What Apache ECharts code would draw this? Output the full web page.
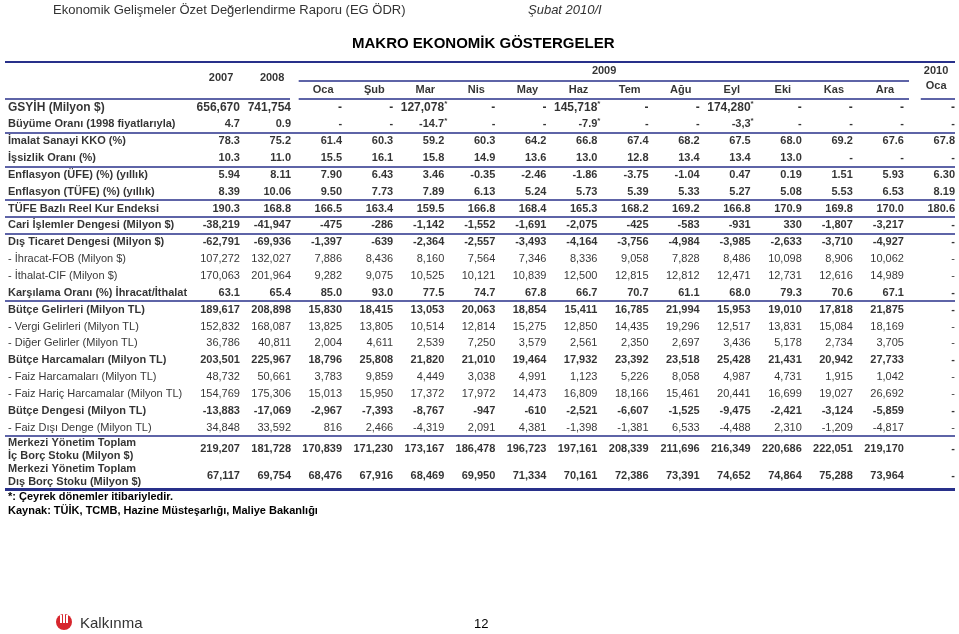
<!DOCTYPE html>
<html>
<head>
<meta charset="utf-8">
<script src="https://cdn.jsdelivr.net/npm/echarts@6/dist/echarts.min.js"></script>
<style>
  html, body { margin: 0; padding: 0; background: #fff; }
  #chart { width: 959px; height: 634px; }
</style>
</head>
<body>
<div id="chart"></div>
<script>
// column headers
const yearCols = ['2007', '2008']
const monthCols = ['Oca', 'Şub', 'Mar', 'Nis', 'May', 'Haz', 'Tem', 'Ağu', 'Eyl', 'Eki', 'Kas', 'Ara']
const groupLabel = '2009'
const lastCol = '2010\nOca'

const rowLabels = [
  'GSYİH (Milyon $)',
  'Büyüme Oranı (1998 fiyatlarıyla)',
  'İmalat Sanayi KKO (%)',
  'İşsizlik Oranı (%)',
  'Enflasyon (ÜFE) (%) (yıllık)',
  'Enflasyon (TÜFE) (%) (yıllık)',
  'TÜFE Bazlı Reel Kur Endeksi',
  'Cari İşlemler Dengesi (Milyon $)',
  'Dış Ticaret Dengesi (Milyon $)',
  '- İhracat-FOB (Milyon $)',
  '- İthalat-CIF (Milyon $)',
  'Karşılama Oranı (%) İhracat/İthalat',
  'Bütçe Gelirleri (Milyon TL)',
  '- Vergi Gelirleri (Milyon TL)',
  '- Diğer Gelirler (Milyon TL)',
  'Bütçe Harcamaları (Milyon TL)',
  '- Faiz Harcamaları (Milyon TL)',
  '- Faiz Hariç Harcamalar (Milyon TL)',
  'Bütçe Dengesi (Milyon TL)',
  '- Faiz Dışı Denge (Milyon TL)',
  'Merkezi Yönetim Toplam\nİç Borç Stoku (Milyon $)',
  'Merkezi Yönetim Toplam\nDış Borç Stoku (Milyon $)'
]

// values per row: 2007, 2008, 2009 Oca..Ara, 2010 Oca
const gsyih = ['656,670', '741,754', '-', '-', '127,078*', '-', '-', '145,718*', '-', '-', '174,280*', '-', '-', '-', '-']
const buyume = ['4.7', '0.9', '-', '-', '-14.7*', '-', '-', '-7.9*', '-', '-', '-3,3*', '-', '-', '-', '-']
const imalatKko = ['78.3', '75.2', '61.4', '60.3', '59.2', '60.3', '64.2', '66.8', '67.4', '68.2', '67.5', '68.0', '69.2', '67.6', '67.8']
const issizlik = ['10.3', '11.0', '15.5', '16.1', '15.8', '14.9', '13.6', '13.0', '12.8', '13.4', '13.4', '13.0', '-', '-', '-']
const ufe = ['5.94', '8.11', '7.90', '6.43', '3.46', '-0.35', '-2.46', '-1.86', '-3.75', '-1.04', '0.47', '0.19', '1.51', '5.93', '6.30']
const tufe = ['8.39', '10.06', '9.50', '7.73', '7.89', '6.13', '5.24', '5.73', '5.39', '5.33', '5.27', '5.08', '5.53', '6.53', '8.19']
const reelKur = ['190.3', '168.8', '166.5', '163.4', '159.5', '166.8', '168.4', '165.3', '168.2', '169.2', '166.8', '170.9', '169.8', '170.0', '180.6']
const cariDenge = ['-38,219', '-41,947', '-475', '-286', '-1,142', '-1,552', '-1,691', '-2,075', '-425', '-583', '-931', '330', '-1,807', '-3,217', '-']
const disTicaret = ['-62,791', '-69,936', '-1,397', '-639', '-2,364', '-2,557', '-3,493', '-4,164', '-3,756', '-4,984', '-3,985', '-2,633', '-3,710', '-4,927', '-']
const ihracat = ['107,272', '132,027', '7,886', '8,436', '8,160', '7,564', '7,346', '8,336', '9,058', '7,828', '8,486', '10,098', '8,906', '10,062', '-']
const ithalat = ['170,063', '201,964', '9,282', '9,075', '10,525', '10,121', '10,839', '12,500', '12,815', '12,812', '12,471', '12,731', '12,616', '14,989', '-']
const karsilama = ['63.1', '65.4', '85.0', '93.0', '77.5', '74.7', '67.8', '66.7', '70.7', '61.1', '68.0', '79.3', '70.6', '67.1', '-']
const butceGelir = ['189,617', '208,898', '15,830', '18,415', '13,053', '20,063', '18,854', '15,411', '16,785', '21,994', '15,953', '19,010', '17,818', '21,875', '-']
const vergi = ['152,832', '168,087', '13,825', '13,805', '10,514', '12,814', '15,275', '12,850', '14,435', '19,296', '12,517', '13,831', '15,084', '18,169', '-']
const digerGelir = ['36,786', '40,811', '2,004', '4,611', '2,539', '7,250', '3,579', '2,561', '2,350', '2,697', '3,436', '5,178', '2,734', '3,705', '-']
const butceHarcama = ['203,501', '225,967', '18,796', '25,808', '21,820', '21,010', '19,464', '17,932', '23,392', '23,518', '25,428', '21,431', '20,942', '27,733', '-']
const faizHarcama = ['48,732', '50,661', '3,783', '9,859', '4,449', '3,038', '4,991', '1,123', '5,226', '8,058', '4,987', '4,731', '1,915', '1,042', '-']
const faizHaric = ['154,769', '175,306', '15,013', '15,950', '17,372', '17,972', '14,473', '16,809', '18,166', '15,461', '20,441', '16,699', '19,027', '26,692', '-']
const butceDenge = ['-13,883', '-17,069', '-2,967', '-7,393', '-8,767', '-947', '-610', '-2,521', '-6,607', '-1,525', '-9,475', '-2,421', '-3,124', '-5,859', '-']
const faizDisi = ['34,848', '33,592', '816', '2,466', '-4,319', '2,091', '4,381', '-1,398', '-1,381', '6,533', '-4,488', '2,310', '-1,209', '-4,817', '-']
const icBorc = ['219,207', '181,728', '170,839', '171,230', '173,167', '186,478', '196,723', '197,161', '208,339', '211,696', '216,349', '220,686', '222,051', '219,170', '-']
const disBorc = ['67,117', '69,754', '68,476', '67,916', '68,469', '69,950', '71,334', '70,161', '72,386', '73,391', '74,652', '74,864', '75,288', '73,964', '-']

const rows = [gsyih, buyume, imalatKko, issizlik, ufe, tufe, reelKur, cariDenge, disTicaret, ihracat,
  ithalat, karsilama, butceGelir, vergi, digerGelir, butceHarcama, faizHarcama, faizHaric, butceDenge,
  faizDisi, icBorc, disBorc]

// rows after which a rule is drawn
const ruleAfter = [1, 3, 5, 6, 7, 11, 19]

const FONT = '"Liberation Sans", Arial, Helvetica, sans-serif'
const NAVY = '#28308a'
const X_MIN = -4.6
const X_MAX = 14
const BODY_ROWS = 20

const chart = echarts.init(document.getElementById('chart'))

function textCell(x, y, text, bold, position, size, offsetX) {
  const starred = text.endsWith('*')
  return {
    value: [x, y],
    text,
    size,
    label: {
      position,
      fontSize: size,
      fontWeight: bold ? 'bold' : 'normal',
      offset: [starred ? 3 : offsetX, 0],
    },
  }
}

function cellFormatter(p) {
  const t = p.data.text
  if (t.endsWith('*')) {
    const key = p.data.size === 12 ? 'n12' : 'n11'
    return '{' + key + '|' + t.slice(0, -1) + '}{s|*}'
  }
  return t
}

function rowItems(from, to) {
  const items = []
  for (let r = from; r < to; r++) {
    const bold = !rowLabels[r].startsWith('- ')
    // first row is set a size larger in the source table
    const size = r === 0 ? 12 : 11
    items.push(textCell(X_MIN, r, rowLabels[r], bold, 'right', size, 3))
    rows[r].forEach((v, c) => items.push(textCell(c, r, v, bold, 'left', size, 0)))
  }
  return items
}

function hRule(x1, x2, y, width) {
  return [
    { coord: [x1, y], lineStyle: { width } },
    { coord: [x2, y] },
  ]
}

const baseLabel = {
  show: true,
  color: '#000',
  fontFamily: FONT,
  fontSize: 11,
  distance: 0,
  lineHeight: 13,
  formatter: cellFormatter,
  rich: {
    n12: { fontFamily: FONT, fontSize: 12, fontWeight: 'bold', color: '#000' },
    n11: { fontFamily: FONT, fontSize: 11, fontWeight: 'bold', color: '#000' },
    s: { fontFamily: FONT, fontSize: 8, fontWeight: 'bold', color: '#000', padding: [0, 0, 7, 0] },
  },
}

function markLines(data) {
  return {
    silent: true,
    symbol: ['none', 'none'],
    label: { show: false },
    lineStyle: { color: NAVY, type: 'solid', width: 1.5 },
    data,
  }
}

// header cells
const headerItems = []
yearCols.forEach((t, c) => headerItems.push({ value: [c - 0.37, 0.86], text: t }))
headerItems.push({ value: [(2 + 13) / 2 - 0.37, 0.49], text: groupLabel })
monthCols.forEach((t, i) => headerItems.push({ value: [i + 2 - 0.37, 1.51], text: t }))
headerItems.push({ value: [14 - 0.37, 0.9], text: lastCol })

const gridBase = { left: 5, right: 4, containLabel: false }
const xBase = { type: 'value', min: X_MIN, max: X_MAX, show: false }
const titleBase = { padding: 0 }

chart.setOption({
  animation: false,
  backgroundColor: '#fff',
  title: [
    {
      ...titleBase,
      text: 'Ekonomik Gelişmeler Özet Değerlendirme Raporu (EG ÖDR)',
      left: 53, top: 4,
      textStyle: { fontFamily: FONT, fontSize: 13, fontWeight: 'normal', color: '#333' },
    },
    {
      ...titleBase,
      text: 'Şubat 2010/I',
      left: 528, top: 4,
      textStyle: { fontFamily: FONT, fontSize: 13, fontWeight: 'normal', fontStyle: 'italic', color: '#333' },
    },
    {
      ...titleBase,
      text: 'MAKRO EKONOMİK GÖSTERGELER',
      left: 352, top: 36,
      textStyle: { fontFamily: FONT, fontSize: 15, fontWeight: 'bold', color: '#000' },
    },
    {
      ...titleBase,
      text: '*: Çeyrek dönemler itibariyledir.',
      left: 8, top: 491,
      textStyle: { fontFamily: FONT, fontSize: 11, fontWeight: 'bold', color: '#000' },
    },
    {
      ...titleBase,
      text: 'Kaynak: TÜİK, TCMB, Hazine Müsteşarlığı, Maliye Bakanlığı',
      left: 8, top: 505,
      textStyle: { fontFamily: FONT, fontSize: 11, fontWeight: 'bold', color: '#000' },
    },
    {
      ...titleBase,
      text: 'Kalkınma',
      left: 80, top: 616,
      textStyle: { fontFamily: FONT, fontSize: 15, fontWeight: 'normal', color: '#333' },
    },
    {
      ...titleBase,
      text: '12',
      left: 474, top: 618,
      textStyle: { fontFamily: FONT, fontSize: 13, fontWeight: 'normal', color: '#000' },
    },
  ],
  graphic: [
    { type: 'circle', shape: { cx: 64, cy: 622, r: 8 }, style: { fill: '#d7262d' } },
    { type: 'rect', shape: { x: 60, y: 615, width: 2, height: 8 }, style: { fill: '#fff' } },
    { type: 'rect', shape: { x: 63, y: 614, width: 2, height: 9 }, style: { fill: '#fff' } },
    { type: 'rect', shape: { x: 66, y: 615, width: 2, height: 8 }, style: { fill: '#fff' } },
  ],
  grid: [
    { ...gridBase, top: 62, height: 37 },
    { ...gridBase, top: 99, height: 337 },
    { ...gridBase, top: 436, height: 53 },
  ],
  xAxis: [
    { ...xBase, gridIndex: 0 },
    { ...xBase, gridIndex: 1 },
    { ...xBase, gridIndex: 2 },
  ],
  yAxis: [
    { type: 'value', gridIndex: 0, min: 0, max: 2, inverse: true, show: false },
    { type: 'value', gridIndex: 1, min: -0.5, max: BODY_ROWS - 0.5, inverse: true, show: false },
    { type: 'value', gridIndex: 2, min: BODY_ROWS - 0.5, max: rows.length - 0.5, inverse: true, show: false },
  ],
  series: [
    {
      type: 'scatter',
      xAxisIndex: 0,
      yAxisIndex: 0,
      symbolSize: 0,
      silent: true,
      clip: false,
      data: headerItems,
      label: {
        ...baseLabel,
        position: 'inside',
        fontWeight: 'bold',
        lineHeight: 15,
        formatter: (p) => p.data.text,
      },
      markLine: markLines([
        hRule(X_MIN, X_MAX, 0, 2),
        hRule(1.15, 13.1, 1, 1.5),
        hRule(X_MIN, 0.98, 2, 1.5),
        hRule(1.15, 13.1, 2, 1.5),
        hRule(13.33, X_MAX, 2, 1.5),
      ]),
    },
    {
      type: 'scatter',
      xAxisIndex: 1,
      yAxisIndex: 1,
      symbolSize: 0,
      silent: true,
      clip: false,
      data: rowItems(0, BODY_ROWS),
      label: baseLabel,
      markLine: markLines(ruleAfter.map((r) => hRule(X_MIN, X_MAX, r + 0.5, 1.5))),
    },
    {
      type: 'scatter',
      xAxisIndex: 2,
      yAxisIndex: 2,
      symbolSize: 0,
      silent: true,
      clip: false,
      data: rowItems(BODY_ROWS, rows.length),
      label: baseLabel,
      markLine: markLines([hRule(X_MIN, X_MAX, rows.length - 0.5, 3)]),
    },
  ],
})
</script>
</body>
</html>
